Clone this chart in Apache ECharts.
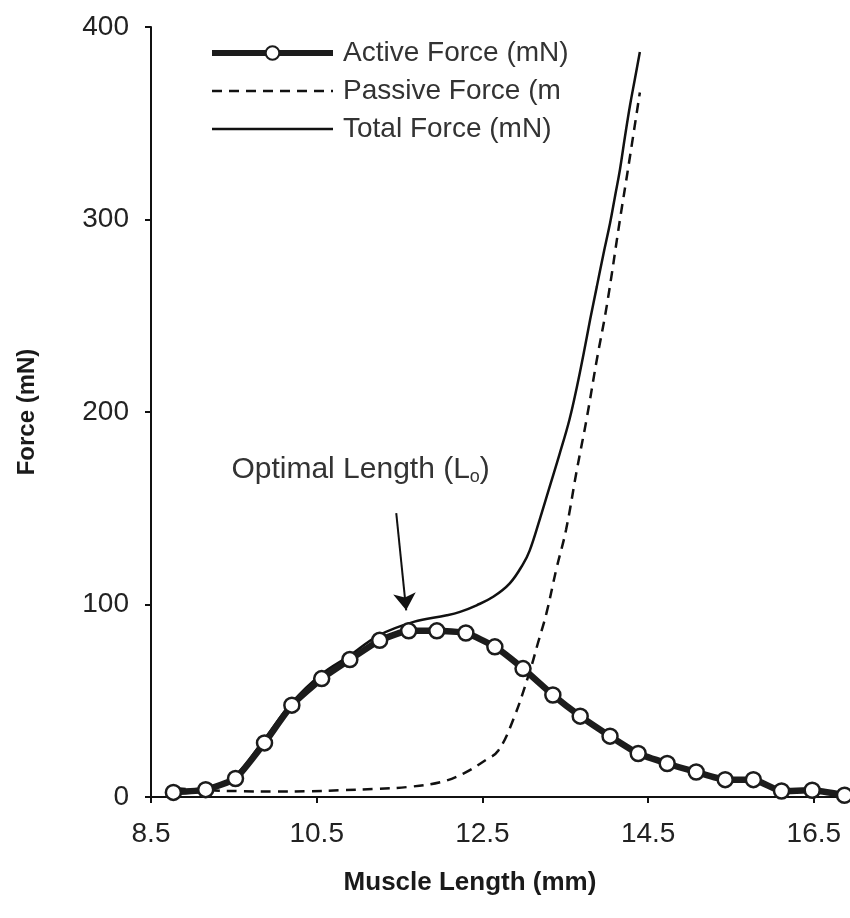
<!DOCTYPE html>
<html>
<head>
<meta charset="utf-8">
<script src="https://cdn.jsdelivr.net/npm/echarts@6/dist/echarts.min.js"></script>
<style>
  html, body { margin: 0; padding: 0; background: #ffffff; }
  #chart { width: 850px; height: 918px; }
</style>
</head>
<body>
<div id="chart"></div>
<script>
// ---- Data ----
const xTickValues = [8.5, 10.5, 12.5, 14.5, 16.5];
const yTickValues = [0, 100, 200, 300, 400];

const activeName = 'Active Force (mN)';
const passiveName = 'Passive Force (m';
const totalName = 'Total Force (mN)';

const activeLength = [8.77, 9.16, 9.52, 9.87, 10.20, 10.56, 10.90, 11.26, 11.61, 11.95, 12.30, 12.65,
                      12.99, 13.35, 13.68, 14.04, 14.38, 14.73, 15.08, 15.43, 15.77, 16.11, 16.48, 16.87];
const activeForce  = [2.4, 3.8, 9.6, 28.1, 47.7, 61.5, 71.4, 81.4, 86.3, 86.3, 85.2, 78.0,
                      66.7, 53.0, 42.0, 31.6, 22.6, 17.4, 13.0, 9.0, 9.0, 3.1, 3.5, 0.9];

const passiveLength = [8.8, 9.2, 9.6, 10.0, 10.4, 10.8, 11.2, 11.6, 12.0, 12.27, 12.55, 12.69, 12.87,
                       13.07, 13.17, 13.27, 13.39, 13.51, 13.64, 13.76, 13.88, 14.0, 14.16, 14.26, 14.4];
const passiveForce  = [4.5, 3.5, 3.0, 2.8, 3.0, 3.5, 4.2, 5.2, 7.8, 12.2, 19.5, 24, 40,
                       65, 80, 95, 118, 139, 170, 197, 227, 255, 300, 327, 366];

const totalLength = [8.8, 9.2, 9.5, 9.85, 10.2, 10.55, 10.9, 11.25, 11.67, 12.07, 12.23, 12.43, 12.63,
                     12.83, 12.99, 13.07, 13.19, 13.31, 13.43, 13.55, 13.64, 13.72, 13.80, 13.88, 13.96,
                     14.04, 14.10, 14.16, 14.22, 14.28, 14.34, 14.40];
const totalForce  = [3.5, 5, 10.5, 29, 49, 63.5, 73.5, 84, 91, 94.4, 96.2, 99.6, 104,
                     111, 121, 128, 144, 161, 178, 196, 213, 230, 248, 265, 282,
                     298, 312, 326, 343, 359, 373, 387];

// annotation: "Optimal Length (Lo)" with arrow pointing at the peak
const annotationText = [11.03, 170];
const arrowStart = [11.46, 147.5];
const arrowEnd = [11.58, 97];

// ---- Build ----
const zip = (xs, ys) => xs.map((x, i) => [x, ys[i]]);
const FONT = '"Liberation Sans", Arial, sans-serif';
const hiddenSymbol = { color: 'rgba(0,0,0,0)', borderColor: 'rgba(0,0,0,0)', borderWidth: 0, opacity: 0 };

const chart = echarts.init(document.getElementById('chart'), null, { renderer: 'canvas' });

const option = {
  backgroundColor: '#ffffff',
  animation: false,
  grid: { left: 151, right: 3, top: 27, bottom: 121, containLabel: false },
  legend: {
    orient: 'vertical',
    left: 204,
    top: 34,
    itemWidth: 121,
    itemHeight: 17,
    itemGap: 10,
    textStyle: { fontFamily: FONT, fontSize: 28, color: '#333333', padding: [0, 0, 0, 5] },
    data: [
      { name: activeName, lineStyle: { width: 6 } },
      { name: passiveName, lineStyle: { width: 2.5 }, itemStyle: hiddenSymbol },
      { name: totalName, lineStyle: { width: 2.5 }, itemStyle: hiddenSymbol }
    ]
  },
  xAxis: {
    type: 'value',
    min: 8.5,
    max: 16.9,
    name: 'Muscle Length (mm)',
    nameLocation: 'middle',
    nameGap: 73,
    nameTextStyle: { fontFamily: FONT, fontSize: 26, fontWeight: 'bold', color: '#1a1a1a', padding: [0, 58, 0, 0] },
    splitLine: { show: false },
    axisLine: { show: true, onZero: false, lineStyle: { color: '#111111', width: 2 } },
    axisTick: { show: true, inside: false, length: 6, customValues: xTickValues, lineStyle: { color: '#111111', width: 2 } },
    axisLabel: { customValues: xTickValues, margin: 23, fontFamily: FONT, fontSize: 28, color: '#222222',
                 formatter: v => v.toFixed(1) }
  },
  yAxis: {
    type: 'value',
    min: 0,
    max: 400,
    interval: 100,
    name: 'Force (mN)',
    nameLocation: 'middle',
    nameGap: 112,
    nameTextStyle: { fontFamily: FONT, fontSize: 24, fontWeight: 'bold', color: '#1a1a1a' },
    splitLine: { show: false },
    axisLine: { show: true, lineStyle: { color: '#111111', width: 2 } },
    axisTick: { show: true, inside: false, length: 6, lineStyle: { color: '#111111', width: 2 } },
    axisLabel: { margin: 22, fontFamily: FONT, fontSize: 28, color: '#222222',
                 formatter: v => yTickValues.includes(v) ? String(v) : '' }
  },
  series: [
    {
      name: passiveName,
      type: 'line',
      data: zip(passiveLength, passiveForce),
      smooth: 0.4,
      symbol: 'none',
      lineStyle: { color: '#111111', width: 2.5, type: [10, 7] },
      itemStyle: { color: '#111111' },
      z: 2
    },
    {
      name: totalName,
      type: 'line',
      data: zip(totalLength, totalForce),
      smooth: 0.4,
      symbol: 'none',
      lineStyle: { color: '#111111', width: 2.5 },
      itemStyle: { color: '#111111' },
      z: 3
    },
    {
      name: activeName,
      type: 'line',
      data: zip(activeLength, activeForce),
      smooth: 0.15,
      symbol: 'circle',
      symbolSize: 15,
      lineStyle: { color: '#1c1c1c', width: 6.5 },
      itemStyle: { color: '#ffffff', borderColor: '#1c1c1c', borderWidth: 2.5 },
      z: 4,
      markLine: {
        silent: true,
        symbol: ['none', 'arrow'],
        symbolSize: 17,
        lineStyle: { color: '#111111', width: 2, type: 'solid' },
        label: { show: false },
        data: [[{ coord: arrowStart }, { coord: arrowEnd }]]
      },
      markPoint: {
        silent: true,
        symbol: 'circle',
        symbolSize: 0,
        label: {
          show: true,
          position: 'inside',
          formatter: 'Optimal Length (L{sub|o})',
          fontFamily: FONT,
          fontSize: 30,
          color: '#333333',
          rich: { sub: { fontFamily: FONT, fontSize: 18, color: '#333333', verticalAlign: 'bottom', padding: [14, 0, 0, 0] } }
        },
        data: [{ coord: annotationText, value: 0 }]
      }
    }
  ]
};

chart.setOption(option);
</script>
</body>
</html>
